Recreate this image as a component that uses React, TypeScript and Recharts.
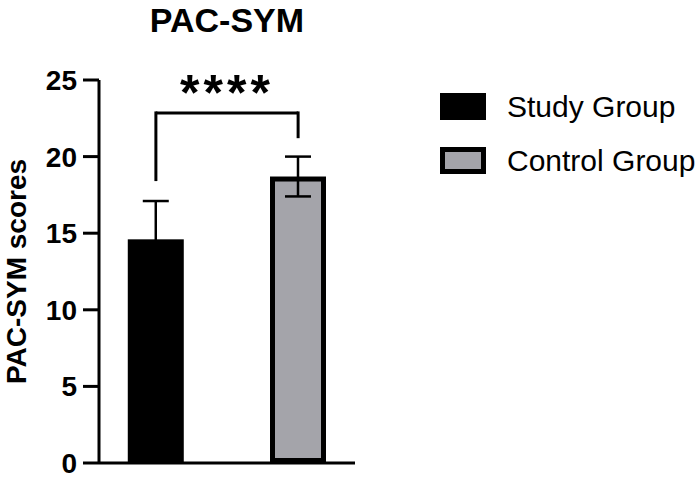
import React from 'react';
import { BarChart, Bar, XAxis, YAxis, ErrorBar, ReferenceLine, Legend } from 'recharts';

const FONT = '"Liberation Sans", Arial, Helvetica, sans-serif';

// values
const groups = ['Study Group', 'Control Group'];
const positions = [1, 2];
const means = [14.6, 18.7];
const sds = [2.5, 1.3];
const colors = ['#000000', '#a4a4aa'];
const yTicks = [0, 5, 10, 15, 20, 25];
const bracketTop = 22.85;
const bracketLegEnds = [18.5, 21.3];
const sigLabel = '****';

const data = groups.map((name, i) => ({ name, pos: positions[i], mean: means[i], sd: sds[i] }));

const BORDER = 5;

// GraphPad style: border drawn inside the bar
const BarShape = (props: any) => {
  const { x, y, width, height } = props;
  const name = props.payload?.name ?? props.name;
  const i = Math.max(0, groups.indexOf(name));
  return (
    <rect
      x={x + BORDER / 2}
      y={y + BORDER / 2}
      width={Math.max(0, width - BORDER)}
      height={Math.max(0, height - BORDER)}
      fill={colors[i]}
      stroke="#000"
      strokeWidth={BORDER}
    />
  );
};

const LegendBox = () => (
  <div style={{ fontFamily: FONT }}>
    {groups.map((g, i) => (
      <div key={g} style={{ display: 'flex', alignItems: 'center', height: 27, marginBottom: 27 }}>
        <div
          style={{
            width: 46,
            height: 27,
            boxSizing: 'border-box',
            background: colors[i],
            border: `${BORDER}px solid #000`,
            marginRight: 21,
            flexShrink: 0,
          }}
        />
        <span style={{ fontSize: 30, color: '#000', whiteSpace: 'nowrap' }}>{g}</span>
      </div>
    ))}
  </div>
);

export default function App() {
  return (
    <div style={{ position: 'absolute', left: 0, top: 0, width: 700, height: 480, background: '#fff', overflow: 'hidden' }}>
      <div
        style={{
          position: 'absolute',
          left: 77,
          width: 300,
          top: 3,
          textAlign: 'center',
          fontFamily: FONT,
          fontWeight: 'bold',
          fontSize: 34,
          lineHeight: '34px',
          color: '#000',
        }}
      >
        PAC-SYM
      </div>
      <BarChart
        width={700}
        height={480}
        data={data}
        margin={{ top: 80, right: 345, bottom: 15, left: 0 }}
        barSize={56}
      >
        <XAxis
          type="number"
          dataKey="pos"
          domain={[0.6, 2.4]}
          tick={false}
          tickLine={false}
          axisLine={{ stroke: '#000', strokeWidth: 3 }}
          height={2}
        />
        <YAxis
          type="number"
          domain={[0, 25]}
          ticks={yTicks}
          width={99}
          tickSize={16}
          tickMargin={6}
          tick={{ fontSize: 28, fontWeight: 'bold', fill: '#000', fontFamily: FONT }}
          tickLine={{ stroke: '#000', strokeWidth: 3 }}
          axisLine={{ stroke: '#000', strokeWidth: 3 }}
          label={{
            value: 'PAC-SYM scores',
            angle: -90,
            position: 'insideLeft',
            offset: 16,
            style: { textAnchor: 'middle', fontSize: 28, fontWeight: 'bold', fill: '#000', fontFamily: FONT },
          }}
        />
        <Legend
          layout="vertical"
          align="center"
          verticalAlign="middle"
          wrapperStyle={{ left: 440, top: 93, width: 260 }}
          content={() => <LegendBox />}
        />
        <Bar dataKey="mean" shape={BarShape} isAnimationActive={false}>
          <ErrorBar dataKey="sd" width={13} strokeWidth={2.5} stroke="#000" />
        </Bar>
        <ReferenceLine
          segment={[
            { x: positions[0], y: bracketTop },
            { x: positions[1], y: bracketTop },
          ]}
          stroke="#000"
          strokeWidth={3}
          label={{
            value: sigLabel,
            position: 'top',
            offset: 3,
            style: { fontSize: 50, fontWeight: 'bold', fill: '#000', fontFamily: FONT, letterSpacing: 4 },
          }}
        />
        {positions.map((p, i) => (
          <ReferenceLine
            key={p}
            segment={[
              { x: p, y: bracketTop },
              { x: p, y: bracketLegEnds[i] },
            ]}
            stroke="#000"
            strokeWidth={3}
            strokeLinecap="square"
          />
        ))}
      </BarChart>
    </div>
  );
}
